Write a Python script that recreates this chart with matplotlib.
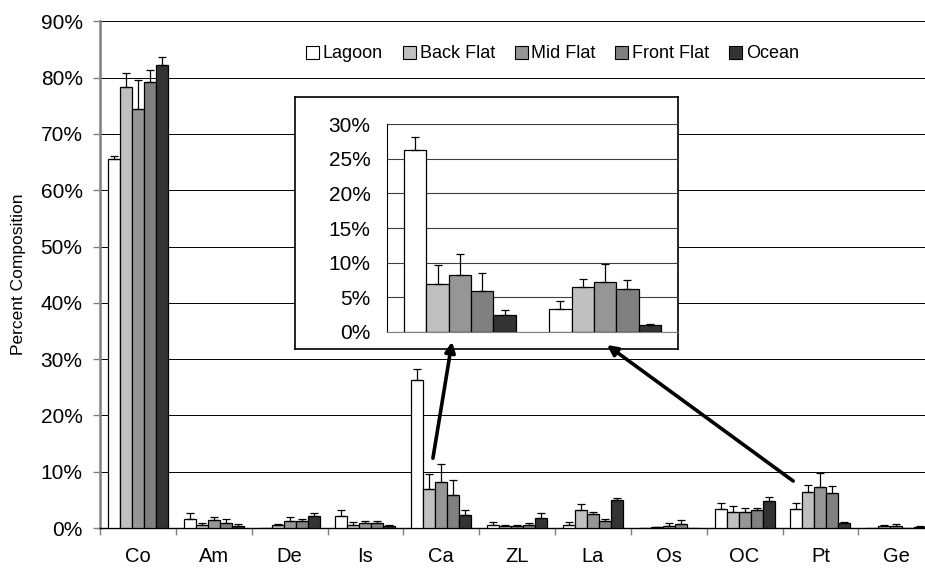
import numpy as np
import matplotlib
matplotlib.use('Agg')
import matplotlib.pyplot as plt
from matplotlib.patches import Patch, ConnectionPatch
from matplotlib.ticker import PercentFormatter, MultipleLocator

plt.rcParams['font.family'] = 'sans-serif'
plt.rcParams['font.sans-serif'] = ['Liberation Sans', 'Arial', 'DejaVu Sans']

# data (percent composition, upper error bar only)
categories = ['Co', 'Am', 'De', 'Is', 'Ca', 'ZL', 'La', 'Os', 'OC', 'Pt', 'Ge']
sites = ['Lagoon', 'Back Flat', 'Mid Flat', 'Front Flat', 'Ocean']
colors = ['white', '#c0c0c0', '#969696', '#808080', '#333333']

lagoon = [65.5, 1.67, 0.05, 2.14, 26.3, 0.54, 0.54, 0.0, 3.33, 3.33, 0.0]
back_flat = [78.3, 0.54, 0.48, 0.54, 6.9, 0.36, 3.2, 0.12, 2.8, 6.42, 0.3]
mid_flat = [74.5, 1.37, 1.25, 0.83, 8.2, 0.42, 2.44, 0.42, 2.8, 7.24, 0.42]
front_flat = [79.2, 0.95, 1.25, 0.9, 5.84, 0.54, 1.25, 0.71, 3.15, 6.13, 0.03]
ocean = [82.2, 0.42, 2.2, 0.42, 2.36, 1.73, 4.94, 0.02, 4.82, 0.92, 0.24]

lagoon_err = [0.5, 1.0, 0.0, 1.06, 1.9, 0.46, 0.59, 0.0, 1.07, 1.06, 0.0]
back_flat_err = [2.6, 0.29, 0.23, 0.46, 2.75, 0.09, 1.0, 0.03, 1.07, 1.2, 0.3]
mid_flat_err = [5.1, 0.53, 0.65, 0.36, 3.1, 0.08, 0.36, 0.41, 0.77, 2.55, 0.35]
front_flat_err = [2.2, 0.6, 0.35, 0.4, 2.6, 0.29, 0.42, 0.66, 0.48, 1.3, 0.0]
ocean_err = [1.5, 0.35, 0.4, 0.06, 0.82, 0.87, 0.42, 0.0, 0.6, 0.14, 0.06]

values = [lagoon, back_flat, mid_flat, front_flat, ocean]
errors = [lagoon_err, back_flat_err, mid_flat_err, front_flat_err, ocean_err]

zoom_idx = [4, 9]  # Ca and Pt shown enlarged
# arrow anchors: (main x, main y) -> (inset x, inset y)
arrow_from = [(3.89, 12.4), (8.64, 8.35)]
arrow_to = [(-0.054, -1.45), (1.013, -1.92)]

W, H = 925, 572
fig = plt.figure(figsize=(W / 100, H / 100), dpi=100)


def px_box(left, top, right, bottom):
    return [left / W, 1 - bottom / H, (right - left) / W, (bottom - top) / H]


def draw_bars(a, idx, bw):
    x = np.arange(len(idx))
    for i in range(len(sites)):
        vals = np.array(values[i])[idx]
        errs = np.array(errors[i])[idx]
        xs = x + (i - 2) * bw
        a.bar(xs, vals, bw, color=colors[i], edgecolor='black', linewidth=0.9, zorder=3)
        m = errs > 0
        a.errorbar(xs[m], vals[m], yerr=[np.zeros(m.sum()), errs[m]], fmt='none',
                   ecolor='black', elinewidth=0.9, capsize=2.8, capthick=0.9, zorder=4)


# main chart
ax = fig.add_axes(px_box(100, 21.3, 934.2, 528))
draw_bars(ax, list(range(len(categories))), 0.158)
ax.set_xlim(-0.5, len(categories) - 0.5)
ax.set_ylim(0, 90)
ax.yaxis.set_major_locator(MultipleLocator(10))
ax.yaxis.set_major_formatter(PercentFormatter(decimals=0))
ax.grid(axis='y', color='black', linewidth=0.7)
ax.set_axisbelow(True)
for s in ['top', 'right']:
    ax.spines[s].set_visible(False)
ax.spines['left'].set_color('#808080')
ax.spines['left'].set_linewidth(1.8)
ax.spines['bottom'].set_color('black')
ax.spines['bottom'].set_linewidth(1.0)
ax.set_xticks(np.arange(len(categories)))
ax.set_xticklabels(categories)
ax.set_xticks(np.arange(len(categories) + 1) - 0.5, minor=True)
ax.tick_params(axis='x', which='major', length=0, pad=14, labelsize=14.5)
ax.tick_params(axis='x', which='minor', length=5, width=1, color='#808080')
ax.tick_params(axis='y', length=5, width=1, color='#808080', pad=7.5, labelsize=15)

fig.text(18.8 / W, 1 - 274.5 / H, 'Percent Composition', rotation=90,
         ha='center', va='center', fontsize=12.5)

# inset frame + enlarged view
frame = fig.add_axes(px_box(295, 97.3, 677.7, 349.3))
frame.set_xticks([])
frame.set_yticks([])
for s in frame.spines.values():
    s.set_color('black')
    s.set_linewidth(1.2)

ins = fig.add_axes(px_box(387.3, 124.3, 677.7, 331.7))
ins.patch.set_alpha(0)
draw_bars(ins, zoom_idx, 0.154)
ins.set_xlim(-0.5, len(zoom_idx) - 0.5)
ins.set_ylim(0, 30)
ins.yaxis.set_major_locator(MultipleLocator(5))
ins.yaxis.set_major_formatter(PercentFormatter(decimals=0))
ins.grid(axis='y', color='#404040', linewidth=0.8)
ins.set_axisbelow(True)
ins.set_xticks([])
ins.tick_params(axis='y', length=0, pad=12, labelsize=15)
for s in ['top', 'right']:
    ins.spines[s].set_visible(False)
ins.spines['left'].set_color('black')
ins.spines['bottom'].set_color('#808080')

for a, b in zip(arrow_from, arrow_to):
    con = ConnectionPatch(xyA=a, coordsA=ax.transData, xyB=b, coordsB=ins.transData,
                          arrowstyle='-|>', linewidth=2.6, color='black',
                          mutation_scale=15)
    fig.add_artist(con)

handles = [Patch(facecolor=c, edgecolor='black', linewidth=0.8) for c in colors]
fig.legend(handles, sites, loc='center', bbox_to_anchor=(552.5 / W, 1 - 54 / H),
           ncol=5, frameon=False, fontsize=13, handlelength=0.72, handleheight=0.72,
           handletextpad=0.2, columnspacing=1.1, borderpad=0)

fig.savefig('out.png', dpi=100)
